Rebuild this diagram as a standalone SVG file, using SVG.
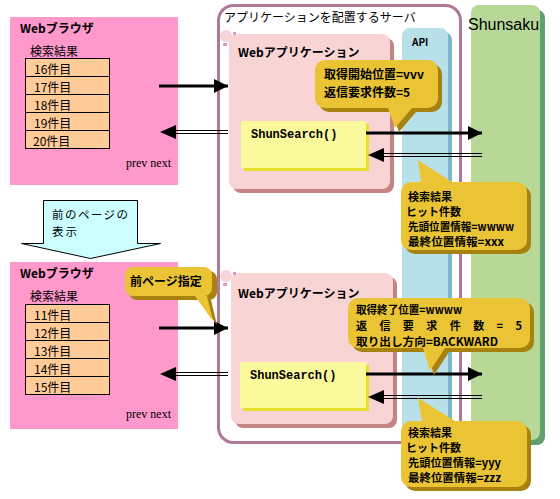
<svg xmlns="http://www.w3.org/2000/svg" width="560" height="499" viewBox="0 0 560 499">
<defs>
<style>
.jp{font-family:"Noto Sans CJK JP","Noto Sans",sans-serif;font-size:12px;fill:#000}
.jb{font-family:"Noto Sans CJK JP","Noto Sans",sans-serif;font-size:12px;font-weight:bold;fill:#000}
.cb{font-family:"Noto Sans CJK JP","Noto Sans",sans-serif;font-size:11px;font-weight:bold;fill:#000}
.mono{font-family:"Liberation Mono",monospace;font-size:12px;font-weight:bold;fill:#000}
.serif{font-family:"Liberation Serif",serif;font-size:12px;fill:#000}
.browser{fill:#FF99CC}
.cell{fill:#FFCC99;stroke:#000;stroke-width:1}
.app{fill:#F8D4D4}
.appsh{fill:#C48484}
.fn{fill:#FAFA9C}
.fnsh{fill:#E8E028}
.call{fill:#EAC434}
.callsh{fill:#A8820F}
.thick{stroke:#000;stroke-width:3;fill:none}
.thin{stroke:#000;stroke-width:1;fill:none}
</style>
<marker id="ah" markerWidth="14" markerHeight="14" refX="14" refY="7" orient="auto" markerUnits="userSpaceOnUse">
<path d="M0,0 L14,7 L0,14 Z" fill="#000"/>
</marker>
</defs>

<!-- Server container and columns -->
<g id="server">
<rect x="218.5" y="5.5" width="242" height="437" rx="15" fill="#fff" stroke="#B07898" stroke-width="3"/>
<text class="jp" x="224" y="22">アプリケーションを配置するサーバ</text>
</g>
<g id="api">
<rect x="406" y="32" width="46" height="440" rx="8" fill="#78B8C8"/>
<rect x="402" y="28" width="46" height="440" rx="8" fill="#B8E0E8"/>
<text class="jb" x="412" y="46" style="font-size:10px">API</text>
</g>
<g id="shunsaku">
<rect x="475" y="10" width="70" height="435" rx="8" fill="#60A070"/>
<rect x="471" y="5" width="69" height="435" rx="8" fill="#B8D898"/>
<text x="468" y="30" style="font-family:'Liberation Sans',sans-serif;font-size:16px;fill:#000">Shunsaku</text>
</g>

<!-- Browser 1 -->
<g id="browser1">
<rect class="browser" x="10" y="17" width="168" height="168"/>
<text class="jb" x="20" y="33">Webブラウザ</text>
<text class="jp" x="30" y="56">検索結果</text>
<rect class="cell" x="25.5" y="58.5" width="84" height="18"/>
<rect class="cell" x="25.5" y="76.5" width="84" height="18"/>
<rect class="cell" x="25.5" y="94.5" width="84" height="18"/>
<rect class="cell" x="25.5" y="112.5" width="84" height="18"/>
<rect class="cell" x="25.5" y="130.5" width="84" height="18"/>
<text class="jp" x="34" y="74">16件目</text>
<text class="jp" x="34" y="92">17件目</text>
<text class="jp" x="34" y="110">18件目</text>
<text class="jp" x="34" y="128">19件目</text>
<text class="jp" x="33" y="146">20件目</text>
<text class="serif" x="126" y="167">prev next</text>
</g>

<!-- Browser 2 -->
<g id="browser2">
<rect class="browser" x="10" y="262" width="168" height="167"/>
<text class="jb" x="20" y="278">Webブラウザ</text>
<text class="jp" x="30" y="301">検索結果</text>
<rect class="cell" x="25.5" y="304.5" width="84" height="18"/>
<rect class="cell" x="25.5" y="322.5" width="84" height="18"/>
<rect class="cell" x="25.5" y="340.5" width="84" height="18"/>
<rect class="cell" x="25.5" y="358.5" width="84" height="18"/>
<rect class="cell" x="25.5" y="376.5" width="84" height="18"/>
<text class="jp" x="34" y="320">11件目</text>
<text class="jp" x="34" y="338">12件目</text>
<text class="jp" x="34" y="356">13件目</text>
<text class="jp" x="34" y="374">14件目</text>
<text class="jp" x="34" y="392">15件目</text>
<text class="serif" x="126" y="418">prev next</text>
</g>

<!-- Big down arrow -->
<g id="prevpage">
<path d="M43.5,200.5 L137.5,200.5 L137.5,243.5 L160.5,243.5 L90.5,258.5 L21.5,243.5 L43.5,243.5 Z" fill="#CCFFFF" stroke="#000" stroke-width="1"/>
<text class="jp" x="52" y="219" style="font-size:11.5px" textLength="76" lengthAdjust="spacing">前のページの</text>
<text class="jp" x="52" y="236" style="font-size:11.5px" textLength="25" lengthAdjust="spacing">表示</text>
</g>

<!-- Web app 1 -->
<g id="webapp1">
<rect class="appsh" x="233" y="38" width="161" height="155" rx="8"/>
<rect class="app" x="229" y="34" width="161" height="155" rx="8"/>
<circle cx="226" cy="36" r="6" fill="#F8D4D4"/>
<rect x="233" y="32" width="3" height="3" fill="#E098B8"/>
<rect x="223" y="43" width="4" height="3" fill="#E098B8"/>
<text class="jb" x="238" y="57">Webアプリケーション</text>
</g>
<g id="shunsearch1">
<rect class="fnsh" x="244" y="124" width="125" height="47"/>
<rect class="fn" x="241" y="121" width="125" height="47"/>
<text class="mono" x="251" y="138">ShunSearch()</text>
</g>

<!-- Web app 2 -->
<g id="webapp2">
<rect class="appsh" x="235" y="277" width="162" height="151" rx="8"/>
<rect class="app" x="231" y="273" width="162" height="151" rx="8"/>
<circle cx="226" cy="276" r="6" fill="#F8D4D4"/>
<rect x="233" y="272" width="3" height="3" fill="#E098B8"/>
<rect x="223" y="283" width="4" height="3" fill="#E098B8"/>
<text class="jb" x="238" y="298">Webアプリケーション</text>
</g>
<g id="shunsearch2">
<rect class="fnsh" x="243" y="365" width="126" height="46"/>
<rect class="fn" x="240" y="362" width="126" height="46"/>
<text class="mono" x="250" y="379">ShunSearch()</text>
</g>

<!-- Connectors -->
<g id="connectors">
<line class="thick" x1="159" y1="86" x2="228" y2="86" marker-end="url(#ah)"/>
<line class="thin" x1="228" y1="130.5" x2="170" y2="130.5"/>
<line class="thin" x1="228" y1="133.5" x2="170" y2="133.5"/>
<path d="M176,125 L160,132 L176,139 Z" fill="#000"/>

<line class="thick" x1="366" y1="133" x2="482" y2="133" marker-end="url(#ah)"/>
<line class="thin" x1="482" y1="153.5" x2="378" y2="153.5"/>
<line class="thin" x1="482" y1="156.5" x2="378" y2="156.5"/>
<path d="M384,148 L368,155 L384,162 Z" fill="#000"/>

<line class="thick" x1="159" y1="328" x2="228" y2="328" marker-end="url(#ah)"/>
<line class="thin" x1="228" y1="372.5" x2="170" y2="372.5"/>
<line class="thin" x1="228" y1="375.5" x2="170" y2="375.5"/>
<path d="M176,367 L160,374 L176,381 Z" fill="#000"/>

<line class="thick" x1="366" y1="374" x2="482" y2="374" marker-end="url(#ah)"/>
<line class="thin" x1="482" y1="395.5" x2="378" y2="395.5"/>
<line class="thin" x1="482" y1="398.5" x2="378" y2="398.5"/>
<path d="M384,390 L368,397 L384,404 Z" fill="#000"/>
</g>

<!-- Callouts -->
<g id="callout1">
<path class="callsh" d="M329,64 H432 A10,10 0 0 1 442,74 V102 A10,10 0 0 1 432,112 H416 L399,132 L392,112 H329 A10,10 0 0 1 319,102 V74 A10,10 0 0 1 329,64 Z"/>
<path class="call" d="M325,60 H428 A10,10 0 0 1 438,70 V98 A10,10 0 0 1 428,108 H412 L395,128 L388,108 H325 A10,10 0 0 1 315,98 V70 A10,10 0 0 1 325,60 Z"/>
<text class="jb" x="324" y="79">取得開始位置=vvv</text>
<text class="jb" x="324" y="97">返信要求件数=5</text>
</g>

<g id="callout2">
<path class="callsh" d="M415,186 H425 L422,164 L456,186 H521 A10,10 0 0 1 531,196 V244 A10,10 0 0 1 521,254 H415 A10,10 0 0 1 405,244 V196 A10,10 0 0 1 415,186 Z"/>
<path class="call" d="M411,182 H421 L418,160 L452,182 H517 A10,10 0 0 1 527,192 V240 A10,10 0 0 1 517,250 H411 A10,10 0 0 1 401,240 V192 A10,10 0 0 1 411,182 Z"/>
<text class="cb" x="408" y="201">検索結果</text>
<text class="cb" x="406" y="216">ヒット件数</text>
<text class="cb" x="408" y="231" textLength="106" lengthAdjust="spacingAndGlyphs">先頭位置情報=wwww</text>
<text class="cb" x="408" y="246" textLength="96" lengthAdjust="spacingAndGlyphs">最終位置情報=xxx</text>
</g>

<g id="callout3">
<path class="callsh" d="M362,302 H524 A10,10 0 0 1 534,312 V342 A10,10 0 0 1 524,352 H449 L434,375 L427,352 H362 A10,10 0 0 1 352,342 V312 A10,10 0 0 1 362,302 Z"/>
<path class="call" d="M358,298 H520 A10,10 0 0 1 530,308 V338 A10,10 0 0 1 520,348 H445 L430,371 L423,348 H358 A10,10 0 0 1 348,338 V308 A10,10 0 0 1 358,298 Z"/>
<text class="cb" x="356" y="314" textLength="106" lengthAdjust="spacingAndGlyphs">取得終了位置=wwww</text>
<text class="cb" x="356" y="330" textLength="166" lengthAdjust="spacing">返 信 要 求 件 数 = 5</text>
<text class="cb" x="356" y="346" textLength="142" lengthAdjust="spacingAndGlyphs">取り出し方向=BACKWARD</text>
</g>

<g id="callout4">
<path class="callsh" d="M415,425 H426 L422,402 L459,425 H521 A10,10 0 0 1 531,435 V481 A10,10 0 0 1 521,491 H415 A10,10 0 0 1 405,481 V435 A10,10 0 0 1 415,425 Z"/>
<path class="call" d="M411,421 H422 L418,398 L455,421 H517 A10,10 0 0 1 527,431 V477 A10,10 0 0 1 517,487 H411 A10,10 0 0 1 401,477 V431 A10,10 0 0 1 411,421 Z"/>
<text class="cb" x="408" y="437">検索結果</text>
<text class="cb" x="406" y="452">ヒット件数</text>
<text class="cb" x="408" y="467" textLength="93" lengthAdjust="spacingAndGlyphs">先頭位置情報=yyy</text>
<text class="cb" x="408" y="482" textLength="93" lengthAdjust="spacingAndGlyphs">最終位置情報=zzz</text>
</g>

<g id="callout5">
<path class="callsh" d="M137,271 H209 A8,8 0 0 1 217,279 V292 A8,8 0 0 1 209,300 H211 L217,325 L199,300 H137 A8,8 0 0 1 129,292 V279 A8,8 0 0 1 137,271 Z"/>
<path class="call" d="M133,267 H204 A8,8 0 0 1 212,275 V288 A8,8 0 0 1 204,296 H207 L213,321 L195,296 H133 A8,8 0 0 1 125,288 V275 A8,8 0 0 1 133,267 Z"/>
<text class="jb" x="130" y="286">前ページ指定</text>
</g>
</svg>
